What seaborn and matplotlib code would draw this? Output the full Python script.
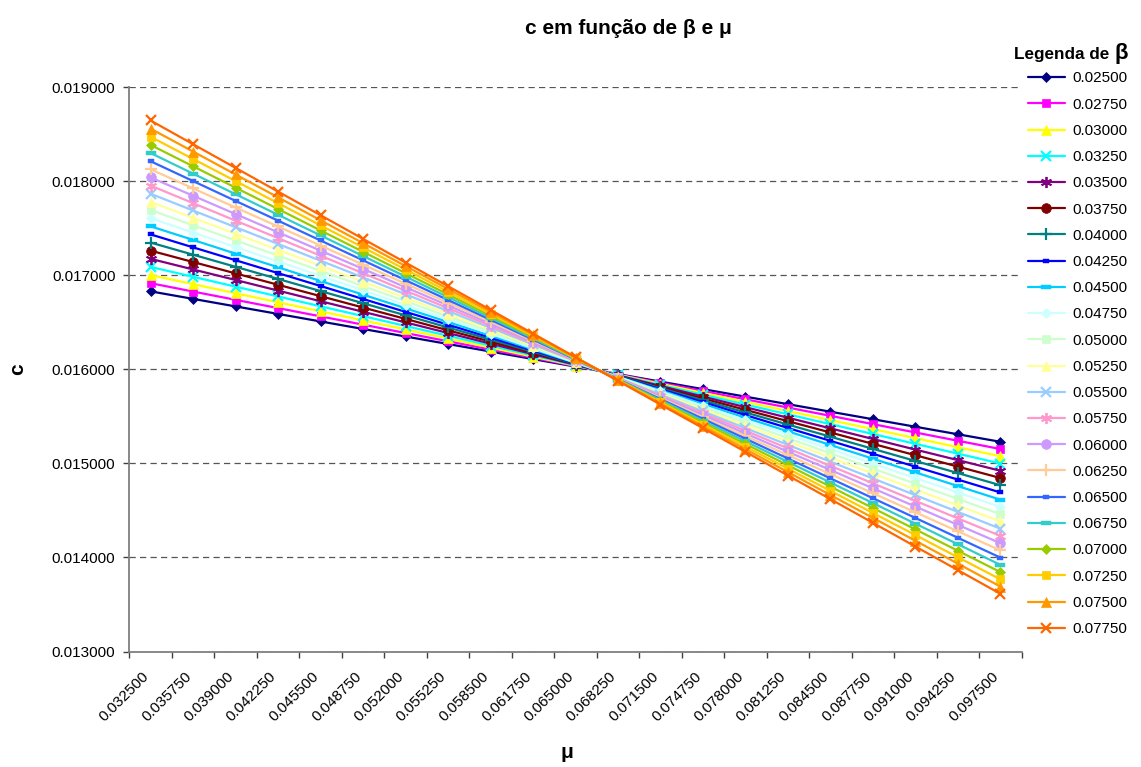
import numpy as np
import matplotlib
matplotlib.use("Agg")
import matplotlib.pyplot as plt
import matplotlib.transforms as mtransforms
import seaborn as sns

# Category axis: values of mu
mu_labels = ["0.032500", "0.035750", "0.039000", "0.042250", "0.045500", "0.048750",
             "0.052000", "0.055250", "0.058500", "0.061750", "0.065000", "0.068250",
             "0.071500", "0.074750", "0.078000", "0.081250", "0.084500", "0.087750",
             "0.091000", "0.094250", "0.097500"]

# Series names: values of beta
beta_labels = ["0.02500", "0.02750", "0.03000", "0.03250", "0.03500", "0.03750",
               "0.04000", "0.04250", "0.04500", "0.04750", "0.05000", "0.05250",
               "0.05500", "0.05750", "0.06000", "0.06250", "0.06500", "0.06750",
               "0.07000", "0.07250", "0.07500", "0.07750"]

# c for each beta, one value per mu
c_b02500 = [0.016830, 0.016750, 0.016670, 0.016590, 0.016510, 0.016430, 0.016350, 0.016270, 0.016190, 0.016110, 0.016030, 0.015950, 0.015870, 0.015790, 0.015710, 0.015630, 0.015550, 0.015470, 0.015390, 0.015310, 0.015230]
c_b02750 = [0.016917, 0.016828, 0.016740, 0.016652, 0.016564, 0.016476, 0.016387, 0.016299, 0.016211, 0.016123, 0.016035, 0.015947, 0.015858, 0.015770, 0.015682, 0.015594, 0.015506, 0.015418, 0.015329, 0.015241, 0.015153]
c_b03000 = [0.017003, 0.016907, 0.016810, 0.016714, 0.016618, 0.016521, 0.016425, 0.016329, 0.016232, 0.016136, 0.016040, 0.015943, 0.015847, 0.015750, 0.015654, 0.015558, 0.015461, 0.015365, 0.015269, 0.015172, 0.015076]
c_b03250 = [0.017090, 0.016985, 0.016880, 0.016776, 0.016671, 0.016567, 0.016462, 0.016358, 0.016253, 0.016149, 0.016044, 0.015940, 0.015835, 0.015731, 0.015626, 0.015522, 0.015417, 0.015313, 0.015208, 0.015104, 0.014999]
c_b03500 = [0.017176, 0.017063, 0.016951, 0.016838, 0.016725, 0.016613, 0.016500, 0.016387, 0.016274, 0.016162, 0.016049, 0.015936, 0.015824, 0.015711, 0.015598, 0.015486, 0.015373, 0.015260, 0.015147, 0.015035, 0.014922]
c_b03750 = [0.017263, 0.017142, 0.017021, 0.016900, 0.016779, 0.016658, 0.016537, 0.016416, 0.016296, 0.016175, 0.016054, 0.015933, 0.015812, 0.015691, 0.015570, 0.015449, 0.015329, 0.015208, 0.015087, 0.014966, 0.014845]
c_b04000 = [0.017349, 0.017220, 0.017091, 0.016962, 0.016833, 0.016704, 0.016575, 0.016446, 0.016317, 0.016188, 0.016059, 0.015929, 0.015800, 0.015671, 0.015542, 0.015413, 0.015284, 0.015155, 0.015026, 0.014897, 0.014768]
c_b04250 = [0.017436, 0.017298, 0.017161, 0.017024, 0.016887, 0.016749, 0.016612, 0.016475, 0.016338, 0.016200, 0.016063, 0.015926, 0.015789, 0.015652, 0.015514, 0.015377, 0.015240, 0.015103, 0.014965, 0.014828, 0.014691]
c_b04500 = [0.017522, 0.017377, 0.017231, 0.017086, 0.016940, 0.016795, 0.016650, 0.016504, 0.016359, 0.016213, 0.016068, 0.015923, 0.015777, 0.015632, 0.015486, 0.015341, 0.015196, 0.015050, 0.014905, 0.014759, 0.014614]
c_b04750 = [0.017609, 0.017455, 0.017301, 0.017148, 0.016994, 0.016841, 0.016687, 0.016533, 0.016380, 0.016226, 0.016073, 0.015919, 0.015766, 0.015612, 0.015458, 0.015305, 0.015151, 0.014998, 0.014844, 0.014691, 0.014537]
c_b05000 = [0.017695, 0.017533, 0.017372, 0.017210, 0.017048, 0.016886, 0.016725, 0.016563, 0.016401, 0.016239, 0.016078, 0.015916, 0.015754, 0.015592, 0.015431, 0.015269, 0.015107, 0.014945, 0.014784, 0.014622, 0.014460]
c_b05250 = [0.017782, 0.017612, 0.017442, 0.017272, 0.017102, 0.016932, 0.016762, 0.016592, 0.016422, 0.016252, 0.016082, 0.015912, 0.015742, 0.015572, 0.015403, 0.015233, 0.015063, 0.014893, 0.014723, 0.014553, 0.014383]
c_b05500 = [0.017868, 0.017690, 0.017512, 0.017334, 0.017156, 0.016978, 0.016799, 0.016621, 0.016443, 0.016265, 0.016087, 0.015909, 0.015731, 0.015553, 0.015375, 0.015197, 0.015018, 0.014840, 0.014662, 0.014484, 0.014306]
c_b05750 = [0.017955, 0.017768, 0.017582, 0.017396, 0.017209, 0.017023, 0.016837, 0.016651, 0.016464, 0.016278, 0.016092, 0.015905, 0.015719, 0.015533, 0.015347, 0.015160, 0.014974, 0.014788, 0.014602, 0.014415, 0.014229]
c_b06000 = [0.018041, 0.017847, 0.017652, 0.017458, 0.017263, 0.017069, 0.016874, 0.016680, 0.016485, 0.016291, 0.016097, 0.015902, 0.015708, 0.015513, 0.015319, 0.015124, 0.014930, 0.014735, 0.014541, 0.014346, 0.014152]
c_b06250 = [0.018128, 0.017925, 0.017722, 0.017520, 0.017317, 0.017114, 0.016912, 0.016709, 0.016507, 0.016304, 0.016101, 0.015899, 0.015696, 0.015493, 0.015291, 0.015088, 0.014886, 0.014683, 0.014480, 0.014278, 0.014075]
c_b06500 = [0.018214, 0.018003, 0.017792, 0.017582, 0.017371, 0.017160, 0.016949, 0.016738, 0.016528, 0.016317, 0.016106, 0.015895, 0.015684, 0.015474, 0.015263, 0.015052, 0.014841, 0.014630, 0.014420, 0.014209, 0.013998]
c_b06750 = [0.018301, 0.018082, 0.017863, 0.017644, 0.017425, 0.017206, 0.016987, 0.016768, 0.016549, 0.016330, 0.016111, 0.015892, 0.015673, 0.015454, 0.015235, 0.015016, 0.014797, 0.014578, 0.014359, 0.014140, 0.013921]
c_b07000 = [0.018387, 0.018160, 0.017933, 0.017706, 0.017478, 0.017251, 0.017024, 0.016797, 0.016570, 0.016343, 0.016116, 0.015888, 0.015661, 0.015434, 0.015207, 0.014980, 0.014753, 0.014525, 0.014298, 0.014071, 0.013844]
c_b07250 = [0.018474, 0.018238, 0.018003, 0.017768, 0.017532, 0.017297, 0.017062, 0.016826, 0.016591, 0.016356, 0.016120, 0.015885, 0.015650, 0.015414, 0.015179, 0.014944, 0.014708, 0.014473, 0.014238, 0.014002, 0.013767]
c_b07500 = [0.018560, 0.018317, 0.018073, 0.017830, 0.017586, 0.017343, 0.017099, 0.016856, 0.016612, 0.016369, 0.016125, 0.015882, 0.015638, 0.015395, 0.015151, 0.014908, 0.014664, 0.014421, 0.014177, 0.013934, 0.013690]
c_b07750 = [0.018647, 0.018395, 0.018143, 0.017891, 0.017640, 0.017388, 0.017136, 0.016885, 0.016633, 0.016381, 0.016130, 0.015878, 0.015626, 0.015375, 0.015123, 0.014871, 0.014620, 0.014368, 0.014116, 0.013865, 0.013613]

series = [c_b02500, c_b02750, c_b03000, c_b03250, c_b03500, c_b03750, c_b04000,
          c_b04250, c_b04500, c_b04750, c_b05000, c_b05250, c_b05500, c_b05750,
          c_b06000, c_b06250, c_b06500, c_b06750, c_b07000, c_b07250, c_b07500,
          c_b07750]

# Classic spreadsheet palette
colors = ["#000080", "#FF00FF", "#FFFF00", "#00FFFF", "#800080", "#800000",
          "#008080", "#0000FF", "#00CCFF", "#CCFFFF", "#CCFFCC", "#FFFF99",
          "#99CCFF", "#FF99CC", "#CC99FF", "#FFCC99", "#3366FF", "#33CCCC",
          "#99CC00", "#FFCC00", "#FF9900", "#FF6600"]

# Marker shapes (cycle of nine)
short_dash = [(-1, -0.55), (1, -0.55), (1, 0.55), (-1, 0.55), (-1, -0.55)]
long_dash = [(-1, -0.32), (1, -0.32), (1, 0.32), (-1, 0.32), (-1, -0.32)]
marker_cycle = [
    dict(marker="D", markersize=5.2, markeredgewidth=0.5),
    dict(marker="s", markersize=6.2, markeredgewidth=0.5),
    dict(marker="^", markersize=7.0, markeredgewidth=0.5),
    dict(marker="x", markersize=6.5, markeredgewidth=1.6),
    dict(marker=(6, 2, 0), markersize=8.0, markeredgewidth=1.3),
    dict(marker="o", markersize=7.0, markeredgewidth=0.5),
    dict(marker="+", markersize=8.5, markeredgewidth=1.6),
    dict(marker=short_dash, markersize=4.8, markeredgewidth=0.3),
    dict(marker=long_dash, markersize=7.5, markeredgewidth=0.3),
]

sns.set_style("white")
plt.rcParams["font.family"] = ["Liberation Sans", "DejaVu Sans"]
plt.rcParams["text.color"] = "black"
plt.rcParams["axes.labelcolor"] = "black"
plt.rcParams["xtick.color"] = "black"
plt.rcParams["ytick.color"] = "black"

W, H = 1141, 767
fig = plt.figure(figsize=(W / 100, H / 100), dpi=100)
ax = fig.add_axes([129.3 / W, 1 - 651.5 / H, (1021.7 - 129.3) / W, (651.5 - 87.3) / H])

x = np.arange(len(mu_labels))
handles = []
for i, (vals, col) in enumerate(zip(series, colors)):
    mk = marker_cycle[i % 9]
    sns.lineplot(x=x, y=vals, ax=ax, color=col, linewidth=1.6, errorbar=None,
                 legend=False, sort=False, mec=col, markerfacecolor=col,
                 marker=mk["marker"], markersize=mk["markersize"],
                 mew=mk["markeredgewidth"], zorder=3 + i)
    handles.append(ax.lines[-1])

# Axes limits and ticks
ax.set_xlim(-0.5, len(mu_labels) - 0.5)
ax.set_ylim(0.013, 0.019)
ax.set_yticks(np.arange(0.013, 0.01901, 0.001))
ax.yaxis.set_major_formatter(matplotlib.ticker.FormatStrFormatter("%.6f"))
ax.tick_params(axis="y", which="major", direction="out", length=4, width=1,
               color="#404040", labelsize=11, labelcolor="black", pad=6, left=True)

ax.set_xticks(np.arange(-0.5, len(mu_labels), 1.0))
ax.set_xticklabels([])
ax.set_xticks(x, minor=True)
ax.set_xticklabels(mu_labels, minor=True, rotation=45, ha="right", va="center",
                   rotation_mode="anchor", fontsize=11, color="black")
ax.tick_params(axis="x", which="major", direction="out", length=4, width=1,
               color="#404040", bottom=True)
ax.tick_params(axis="x", which="minor", length=0, pad=16.5)
shift = mtransforms.ScaledTranslation(-4 / 100, 0, fig.dpi_scale_trans)
for lbl in ax.get_xticklabels(minor=True):
    lbl.set_transform(lbl.get_transform() + shift)

ax.yaxis.grid(True, linestyle=(0, (5, 3.4)), color="#555555", linewidth=0.9)
ax.xaxis.grid(False)
ax.set_axisbelow(True)
for side in ("top", "right"):
    ax.spines[side].set_visible(False)
for side in ("left", "bottom"):
    ax.spines[side].set_color("#7f7f7f")
    ax.spines[side].set_linewidth(1.3)
ax.set_xlabel("")
ax.set_ylabel("")

# Titles and axis names
fig.text(628 / W, 1 - 33.5 / H, "c em função de β e μ", ha="center", va="baseline",
         fontsize=15, fontweight="bold", color="black")
fig.text(18 / W, 1 - 369 / H, "c", rotation=90, ha="center", va="center",
         fontsize=15, fontweight="bold", color="black")
fig.text(567 / W, 1 - 758 / H, "μ", ha="center", va="baseline",
         fontsize=15, fontweight="bold", color="black")

# Legend
fig.text(1109 / W, 1 - 59.3 / H, "Legenda de", ha="right", va="baseline",
         fontsize=12.3, fontweight="bold", color="black")
fig.text(1114 / W, 1 - 59.3 / H, "β", ha="left", va="baseline",
         fontsize=16, fontweight="bold", color="black")
leg = fig.legend(handles, beta_labels, loc="upper left",
                 bbox_to_anchor=(1028 / W, 1 - 71.5 / H), frameon=False, fontsize=11,
                 handlelength=2.4, handletextpad=0.5, labelspacing=0.8, borderpad=0,
                 borderaxespad=0, numpoints=1)
for t in leg.get_texts():
    t.set_color("black")

fig.savefig("out.png", dpi=100)
